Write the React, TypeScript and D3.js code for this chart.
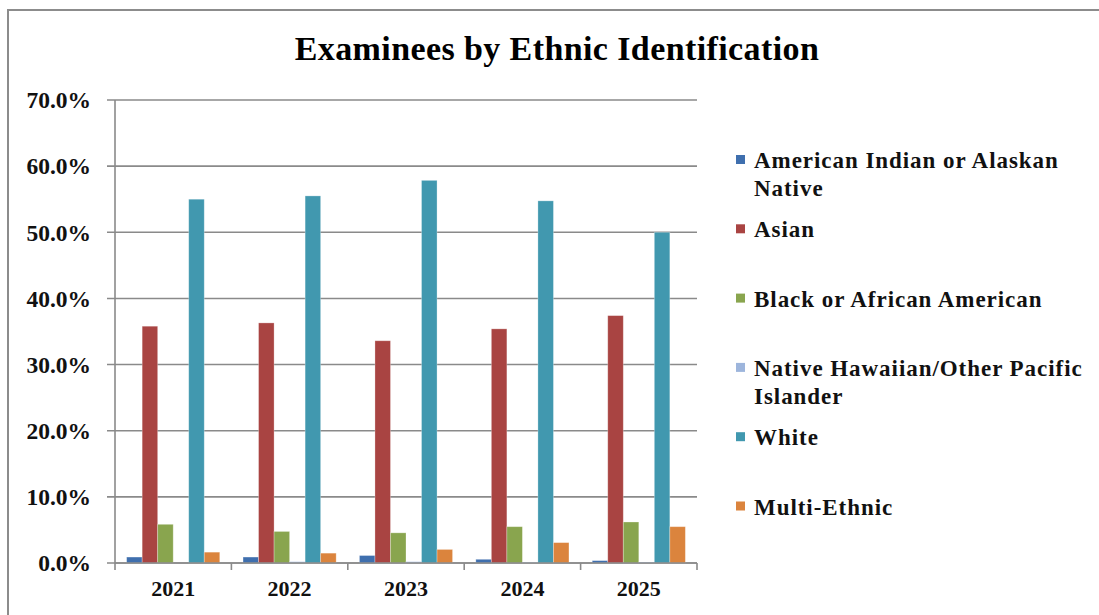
import React from "react";
import * as d3 from "d3";

const years = ["2021", "2022", "2023", "2024", "2025"];
const seriesNames = [
  "American Indian or Alaskan Native",
  "Asian",
  "Black or African American",
  "Native Hawaiian/Other Pacific Islander",
  "White",
  "Multi-Ethnic",
];
const legendLines = [
  ["American Indian or Alaskan", "Native"],
  ["Asian"],
  ["Black or African American"],
  ["Native Hawaiian/Other Pacific", "Islander"],
  ["White"],
  ["Multi-Ethnic"],
];
const americanIndian = [0.009, 0.009, 0.0113, 0.0056, 0.0036];
const asian = [0.358, 0.363, 0.336, 0.354, 0.374];
const black = [0.0585, 0.0477, 0.0456, 0.0549, 0.062];
const nativeHawaiian = [0.0, 0.002, 0.002, 0.0012, 0.0015];
const white = [0.55, 0.555, 0.5785, 0.5475, 0.5];
const multiEthnic = [0.0164, 0.0149, 0.0205, 0.0308, 0.0549];
const seriesValues = [americanIndian, asian, black, nativeHawaiian, white, multiEthnic];
const colors = ["#3F6FAE", "#A94442", "#89A54E", "#9DB5DC", "#4198AF", "#DB843D"];
const yTicks = [0, 0.1, 0.2, 0.3, 0.4, 0.5, 0.6, 0.7];

const W = 1099;
const H = 615;
const left = 115;
const right = 697;
const top = 100;
const bottom = 563;
const font = "'Liberation Serif', 'Times New Roman', serif";
const grid = "#8a8a8a";

export default function App() {
  const y = d3.scaleLinear().domain([0, 0.7]).range([bottom, top]);
  const x = d3.scaleBand().domain(years).range([left, right]).padding(0);
  const xs = d3
    .scaleBand()
    .domain(seriesNames)
    .range([0, x.bandwidth()])
    .paddingInner(0)
    .paddingOuter(0.75);
  const fmt = d3.format(".1%");

  return (
    <svg
      width={W}
      height={H}
      style={{ position: "absolute", left: 0, top: 0, background: "#fff" }}
      fontFamily={font}
    >
      <rect x={8} y={10} width={W + 20} height={H + 20} fill="#fff" stroke="#8c8c8c" strokeWidth={2} />
      <text x={557} y={60} textAnchor="middle" fontSize={34} letterSpacing={0.4} fontWeight="bold" fill="#000">
        Examinees by Ethnic Identification
      </text>
      {yTicks.map((t) => (
        <g key={t}>
          <line x1={107} x2={right} y1={y(t)} y2={y(t)} stroke={grid} strokeWidth={1.6} />
          <text
            x={91}
            y={y(t)}
            dy="0.35em"
            textAnchor="end"
            fontSize={23.5}
            fontWeight="bold"
            fill="#111"
          >
            {fmt(t)}
          </text>
        </g>
      ))}
      {years.map((yr, i) => (
        <g key={yr}>
          {seriesNames.map((s, j) => {
            const v = seriesValues[j][i];
            const bx = (x(yr) as number) + (xs(s) as number);
            return (
              <rect
                key={s}
                x={bx}
                y={y(v)}
                width={xs.bandwidth()}
                height={bottom - y(v)}
                fill={colors[j]}
                stroke="#ffffff"
                strokeOpacity={0.35}
                strokeWidth={0.8}
              />
            );
          })}
          <text
            x={(x(yr) as number) + x.bandwidth() / 2}
            y={596}
            textAnchor="middle"
            fontSize={22}
            fontWeight="bold"
            fill="#111"
          >
            {yr}
          </text>
        </g>
      ))}
      <line x1={left} x2={left} y1={top} y2={bottom} stroke={grid} strokeWidth={1.6} />
      <line x1={left} x2={right} y1={bottom} y2={bottom} stroke={grid} strokeWidth={1.6} />
      {[...years.map((yr) => x(yr) as number), right].map((tx, i) => (
        <line key={i} x1={tx} x2={tx} y1={bottom} y2={bottom + 7} stroke={grid} strokeWidth={1.6} />
      ))}
      {legendLines.map((lines, i) => {
        const ly = 160 + i * 69.3;
        return (
          <g key={i}>
            <rect x={736} y={ly - 5} width={9} height={9} fill={colors[i]} />
            {lines.map((ln, k) => (
              <text
                key={k}
                x={754}
                y={ly + k * 28}
                dy="0.35em"
                fontSize={23}
                fontWeight="bold"
                letterSpacing={0.95}
                fill="#111"
              >
                {ln}
              </text>
            ))}
          </g>
        );
      })}
    </svg>
  );
}
